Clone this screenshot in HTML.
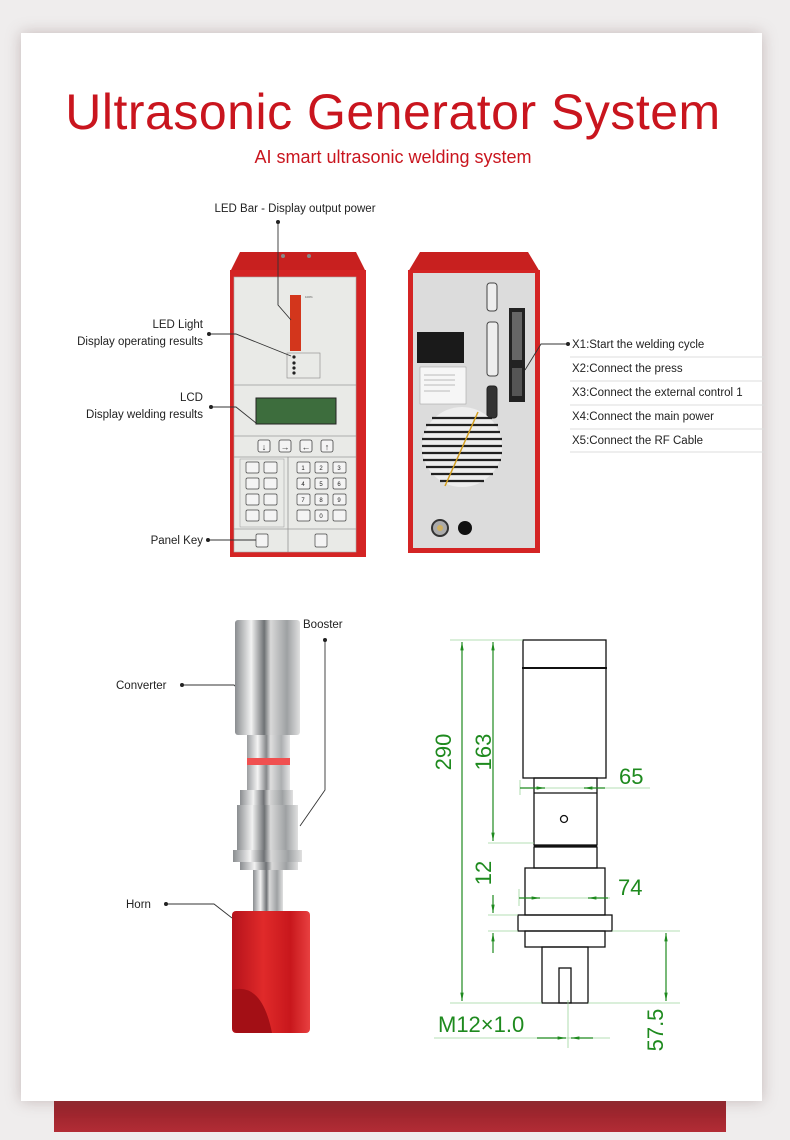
<!DOCTYPE html>
<html><head><meta charset="utf-8"><style>
html,body{margin:0;padding:0;background:#efeded;}
body{width:790px;height:1140px;position:relative;overflow:hidden;font-family:"Liberation Sans",sans-serif;}
#card{position:absolute;left:21px;top:33px;width:741px;height:1068px;background:#fff;box-shadow:0 0 14px rgba(120,90,90,.35);}
#bar{position:absolute;left:54px;top:1101px;width:672px;height:31px;background:linear-gradient(#922129,#b22c35);}
svg{position:absolute;left:0;top:0;}
</style></head><body>
<div id="bar"></div>
<div id="card"></div>
<svg width="790" height="1140" viewBox="0 0 790 1140" font-family="Liberation Sans, sans-serif">
<defs>
<linearGradient id="steel" x1="0" x2="1"><stop offset="0" stop-color="#8a8d90"/><stop offset=".25" stop-color="#f2f2f2"/><stop offset=".45" stop-color="#6f7275"/><stop offset=".55" stop-color="#d8d8d8"/><stop offset=".8" stop-color="#9ea1a3"/><stop offset="1" stop-color="#e0e0e0"/></linearGradient>
<linearGradient id="redm" x1="0" x2="1"><stop offset="0" stop-color="#b5121b"/><stop offset=".4" stop-color="#e02a2a"/><stop offset=".75" stop-color="#c8171c"/><stop offset="1" stop-color="#e84040"/></linearGradient>
<marker id="ar" viewBox="0 0 10 10" refX="10" refY="5" markerWidth="7" markerHeight="7" orient="auto-start-reverse"><path d="M0,3 L10,5 L0,7 z" fill="#1e8a1e"/></marker>
</defs>
<text x="393" y="129" text-anchor="middle" font-size="50" fill="#c9151e" letter-spacing="0.5">Ultrasonic Generator System</text>
<text x="393" y="163" text-anchor="middle" font-size="18" fill="#c9151e">AI smart ultrasonic welding system</text>

<!-- FRONT UNIT -->
<polygon points="240,252 356,252 366,272 230,272" fill="#c8201f"/>
<circle cx="283" cy="256" r="2" fill="#888"/><circle cx="309" cy="256" r="2" fill="#888"/>
<rect x="230" y="270" width="136" height="287" fill="#d42424"/>
<rect x="234" y="277" width="122" height="275" fill="#e9eae7" stroke="#aaa" stroke-width=".6"/>
<rect x="290" y="295" width="11" height="56" fill="#d3361c"/>
<text x="305" y="298" font-size="3" fill="#555">100%</text>
<rect x="287" y="353" width="33" height="25" fill="none" stroke="#888" stroke-width=".6"/>
<circle cx="294" cy="357" r="1.6" fill="#222"/><circle cx="294" cy="363" r="1.6" fill="#222"/><circle cx="294" cy="368" r="1.6" fill="#222"/><circle cx="294" cy="373" r="1.6" fill="#222"/>
<line x1="234" y1="385" x2="356" y2="385" stroke="#999" stroke-width=".7"/>
<rect x="256" y="398" width="80" height="26" fill="#3d6d3d" stroke="#222"/>
<line x1="234" y1="436" x2="356" y2="436" stroke="#999" stroke-width=".7"/>
<g fill="#f4f4f4" stroke="#444" stroke-width=".8">
<rect x="258" y="440" width="12" height="12" rx="2"/><rect x="279" y="440" width="12" height="12" rx="2"/><rect x="300" y="440" width="12" height="12" rx="2"/><rect x="321" y="440" width="12" height="12" rx="2"/>
</g>
<g font-size="9" text-anchor="middle" fill="#333"><text x="264" y="450">↓</text><text x="285" y="450">→</text><text x="306" y="450">←</text><text x="327" y="450">↑</text></g>
<line x1="234" y1="457" x2="356" y2="457" stroke="#999" stroke-width=".7"/>
<line x1="288" y1="457" x2="288" y2="552" stroke="#888" stroke-width=".7"/>
<line x1="234" y1="529" x2="356" y2="529" stroke="#999" stroke-width=".7"/>
<rect x="240" y="459" width="44" height="68" fill="none" stroke="#999" stroke-width=".5"/>
<g fill="#f4f4f4" stroke="#444" stroke-width=".7">
<rect x="246" y="462" width="13" height="11" rx="1.5"/><rect x="264" y="462" width="13" height="11" rx="1.5"/>
<rect x="246" y="478" width="13" height="11" rx="1.5"/><rect x="264" y="478" width="13" height="11" rx="1.5"/>
<rect x="246" y="494" width="13" height="11" rx="1.5"/><rect x="264" y="494" width="13" height="11" rx="1.5"/>
<rect x="246" y="510" width="13" height="11" rx="1.5"/><rect x="264" y="510" width="13" height="11" rx="1.5"/>
<rect x="297" y="462" width="13" height="11" rx="1.5"/><rect x="315" y="462" width="13" height="11" rx="1.5"/><rect x="333" y="462" width="13" height="11" rx="1.5"/>
<rect x="297" y="478" width="13" height="11" rx="1.5"/><rect x="315" y="478" width="13" height="11" rx="1.5"/><rect x="333" y="478" width="13" height="11" rx="1.5"/>
<rect x="297" y="494" width="13" height="11" rx="1.5"/><rect x="315" y="494" width="13" height="11" rx="1.5"/><rect x="333" y="494" width="13" height="11" rx="1.5"/>
<rect x="297" y="510" width="13" height="11" rx="1.5"/><rect x="315" y="510" width="13" height="11" rx="1.5"/><rect x="333" y="510" width="13" height="11" rx="1.5"/>
<rect x="256" y="534" width="12" height="13" rx="1.5"/><rect x="315" y="534" width="12" height="13" rx="1.5"/>
</g>
<g font-size="6" text-anchor="middle" fill="#222"><text x="303" y="470">1</text><text x="321" y="470">2</text><text x="339" y="470">3</text><text x="303" y="486">4</text><text x="321" y="486">5</text><text x="339" y="486">6</text><text x="303" y="502">7</text><text x="321" y="502">8</text><text x="339" y="502">9</text><text x="321" y="518">0</text></g>

<!-- REAR UNIT -->
<polygon points="420,252 528,252 540,272 408,272" fill="#c8201f"/>
<rect x="408" y="270" width="132" height="283" fill="#d42424"/>
<rect x="413" y="273" width="122" height="275" fill="#dcdcdc"/>
<rect x="417" y="332" width="47" height="31" fill="#1a1a1a"/>
<rect x="420" y="367" width="46" height="37" fill="#f6f6f6" stroke="#999" stroke-width=".5"/>
<g fill="none" stroke="#666" stroke-width=".4"><line x1="424" y1="375" x2="455" y2="375"/><line x1="424" y1="380" x2="455" y2="380"/><line x1="424" y1="385" x2="455" y2="385"/><line x1="424" y1="391" x2="450" y2="391"/></g>
<rect x="487" y="283" width="10" height="28" rx="3" fill="#eee" stroke="#444"/>
<rect x="487" y="322" width="11" height="54" rx="3" fill="#eee" stroke="#444"/>
<rect x="487" y="386" width="10" height="32" rx="3" fill="#333" stroke="#222"/>
<rect x="509" y="308" width="16" height="94" fill="#222"/>
<rect x="512" y="312" width="10" height="48" fill="#666"/><rect x="512" y="368" width="10" height="28" fill="#555"/>
<circle cx="462" cy="447" r="40" fill="#eee"/>
<g stroke="#222" stroke-width="2.3">
<line x1="432" y1="418" x2="492" y2="418"/><line x1="426" y1="425" x2="498" y2="425"/><line x1="424" y1="432" x2="500" y2="432"/><line x1="422" y1="439" x2="502" y2="439"/><line x1="422" y1="446" x2="502" y2="446"/><line x1="422" y1="453" x2="502" y2="453"/><line x1="423" y1="460" x2="501" y2="460"/><line x1="426" y1="467" x2="498" y2="467"/><line x1="431" y1="474" x2="493" y2="474"/><line x1="440" y1="481" x2="484" y2="481"/>
</g>
<line x1="445" y1="486" x2="478" y2="412" stroke="#d4a020" stroke-width="1.5"/>
<circle cx="440" cy="528" r="8" fill="#aaa" stroke="#333" stroke-width="2"/><circle cx="440" cy="528" r="3" fill="#d0b060"/>
<circle cx="465" cy="528" r="7" fill="#111"/>
<g font-size="11.5" fill="#222">
<text x="572" y="348">X1:Start the welding cycle</text>
<text x="572" y="372">X2:Connect the press</text>
<text x="572" y="396">X3:Connect the external control 1</text>
<text x="572" y="420">X4:Connect the main power</text>
<text x="572" y="444">X5:Connect the RF Cable</text>
</g>
<g stroke="#ddd" stroke-width="1"><line x1="570" y1="357" x2="765" y2="357"/><line x1="570" y1="381" x2="765" y2="381"/><line x1="570" y1="405" x2="765" y2="405"/><line x1="570" y1="429" x2="765" y2="429"/><line x1="570" y1="452" x2="765" y2="452"/></g>
<g stroke="#333" stroke-width=".9" fill="none">
<polyline points="568,344 541,344 525,370"/>
<polyline points="278,222 278,305 291,320"/>
<polyline points="209,334 236,334 291,356"/>
<polyline points="211,407 236,407 256,423"/>
<line x1="208" y1="540" x2="256" y2="540"/>
<polyline points="182,685 234,685 250,700"/>
<polyline points="325,640 325,790 300,826"/>
<polyline points="166,904 214,904 232,918"/>
</g>
<g fill="#222"><circle cx="568" cy="344" r="2"/><circle cx="278" cy="222" r="2"/><circle cx="209" cy="334" r="2"/><circle cx="211" cy="407" r="2"/><circle cx="208" cy="540" r="2"/><circle cx="182" cy="685" r="2"/><circle cx="325" cy="640" r="2"/><circle cx="166" cy="904" r="2"/></g>
<g font-size="11.5" fill="#222">
<text x="295" y="212" text-anchor="middle">LED Bar - Display output power</text>
<text x="203" y="328" text-anchor="end">LED Light</text>
<text x="203" y="345" text-anchor="end">Display operating results</text>
<text x="203" y="401" text-anchor="end">LCD</text>
<text x="203" y="418" text-anchor="end">Display welding results</text>
<text x="203" y="544" text-anchor="end">Panel Key</text>
<text x="116" y="689">Converter</text>
<text x="303" y="628">Booster</text>
<text x="126" y="908">Horn</text>
</g>

<!-- PRODUCT PHOTO -->
<rect x="235" y="620" width="65" height="115" rx="3" fill="url(#steel)"/>
<rect x="247" y="735" width="43" height="55" fill="url(#steel)" opacity=".85"/>
<rect x="247" y="758" width="43" height="7" fill="#f05050"/>
<rect x="240" y="790" width="53" height="15" fill="url(#steel)"/>
<rect x="237" y="805" width="61" height="45" fill="url(#steel)"/>
<rect x="233" y="850" width="69" height="12" fill="url(#steel)"/>
<rect x="240" y="862" width="58" height="8" fill="url(#steel)"/>
<rect x="253" y="870" width="30" height="42" fill="url(#steel)"/>
<rect x="232" y="911" width="78" height="122" rx="4" fill="url(#redm)"/>
<path d="M232,990 Q262,982 272,1033 L240,1033 Q232,1033 232,1025 Z" fill="#a30f15"/>

<!-- DRAWING -->
<g fill="none" stroke="#111" stroke-width="1.3">
<rect x="523" y="640" width="83" height="138"/>
<line x1="522" y1="668" x2="607" y2="668" stroke-width="2"/>
<rect x="534" y="778" width="63" height="67"/>
<line x1="534" y1="793" x2="597" y2="793"/>
<line x1="534" y1="846" x2="597" y2="846" stroke-width="2.5"/>
<rect x="534" y="847" width="63" height="21"/>
<rect x="525" y="868" width="80" height="47"/>
<rect x="518" y="915" width="94" height="16"/>
<rect x="525" y="931" width="80" height="16"/>
<rect x="542" y="947" width="46" height="56"/>
<rect x="559" y="968" width="12" height="35"/>
<circle cx="564" cy="819" r="3.5"/>
</g>
<g stroke="#9bd49b" stroke-width=".8">
<line x1="450" y1="640" x2="523" y2="640"/><line x1="450" y1="1003" x2="542" y2="1003"/>
<line x1="488" y1="843" x2="534" y2="843"/><line x1="488" y1="915" x2="518" y2="915"/><line x1="488" y1="931" x2="518" y2="931"/>
<line x1="612" y1="931" x2="680" y2="931"/><line x1="588" y1="1003" x2="680" y2="1003"/>
<line x1="545" y1="788" x2="650" y2="788"/><line x1="540" y1="898" x2="610" y2="898"/>
<line x1="434" y1="1038" x2="610" y2="1038"/>
<line x1="520" y1="780" x2="520" y2="795"/><line x1="519" y1="889" x2="519" y2="906"/>
<line x1="568" y1="1000" x2="568" y2="1048"/>
</g>
<g stroke="#1e8a1e" stroke-width="1.2" fill="none">
<line x1="462" y1="642" x2="462" y2="1001" marker-start="url(#ar)" marker-end="url(#ar)"/>
<line x1="493" y1="642" x2="493" y2="841" marker-start="url(#ar)" marker-end="url(#ar)"/>
<line x1="493" y1="895" x2="493" y2="913" marker-end="url(#ar)"/>
<line x1="493" y1="953" x2="493" y2="933" marker-end="url(#ar)"/>
<line x1="666" y1="933" x2="666" y2="1001" marker-start="url(#ar)" marker-end="url(#ar)"/>
<line x1="520" y1="788" x2="545" y2="788" marker-end="url(#ar)"/>
<line x1="584" y1="788" x2="605" y2="788" marker-start="url(#ar)"/>
<line x1="519" y1="898" x2="540" y2="898" marker-end="url(#ar)"/>
<line x1="588" y1="898" x2="608" y2="898" marker-start="url(#ar)"/>
<line x1="537" y1="1038" x2="566" y2="1038" marker-end="url(#ar)"/>
<line x1="593" y1="1038" x2="571" y2="1038" marker-end="url(#ar)"/>
</g>
<g font-size="22" fill="#1e8a1e">
<text transform="translate(451,752) rotate(-90)" text-anchor="middle">290</text>
<text transform="translate(491,752) rotate(-90)" text-anchor="middle">163</text>
<text transform="translate(491,873) rotate(-90)" text-anchor="middle">12</text>
<text transform="translate(663,1030) rotate(-90)" text-anchor="middle">57.5</text>
<text x="619" y="784">65</text>
<text x="618" y="895">74</text>
<text x="438" y="1032">M12×1.0</text>
</g>
</svg>
</body></html>
